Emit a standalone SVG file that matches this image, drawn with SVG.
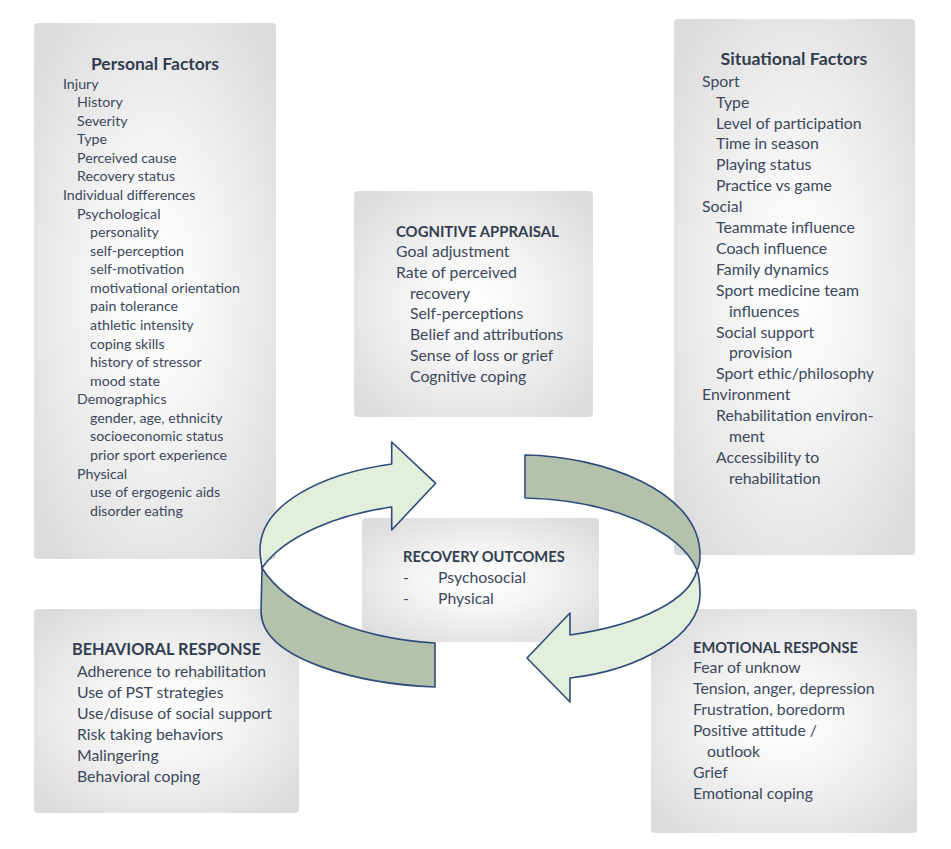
<svg xmlns="http://www.w3.org/2000/svg" width="951" height="849" viewBox="0 0 951 849">
<defs>
<radialGradient id="boxg" cx="50%" cy="50%" r="65%">
<stop offset="0" stop-color="#ffffff"/>
<stop offset="0.35" stop-color="#f6f6f6"/>
<stop offset="1" stop-color="#dcdbdc"/>
</radialGradient>
<style>
.box{fill:url(#boxg);stroke:none}
.t{font-family:Lato,"Open Sans",sans-serif;fill:#3b485b}
.h{font-family:Lato,"Open Sans",sans-serif;font-weight:bold;fill:#323e4f}
.s13{font-size:14.2px}
.s15{font-size:15.8px}
.light{fill:#e2efda;stroke:#2f4b7c;stroke-width:1.6;stroke-linejoin:round}
.dark{fill:#b4c1ab;stroke:#2f4b7c;stroke-width:1.6;stroke-linejoin:round}
</style>
</defs>
<rect width="951" height="849" fill="#ffffff"/>

<g id="personal-factors">
<rect class="box" x="34" y="23" width="242" height="536" rx="4"/>
<text class="h" x="155" y="70" font-size="17.5" text-anchor="middle">Personal Factors</text>
<g class="t s13">
<text x="63" y="88.5">Injury</text>
<text x="77" y="107.1">History</text>
<text x="77" y="125.6">Severity</text>
<text x="77" y="144.2">Type</text>
<text x="77" y="162.8">Perceived cause</text>
<text x="77" y="181.4">Recovery status</text>
<text x="63" y="199.9">Individual differences</text>
<text x="77" y="218.5">Psychological</text>
<text x="90" y="237.1">personality</text>
<text x="90" y="255.6">self-perception</text>
<text x="90" y="274.2">self-motivation</text>
<text x="90" y="292.8">motivational orientation</text>
<text x="90" y="311.3">pain tolerance</text>
<text x="90" y="329.9">athletic intensity</text>
<text x="90" y="348.5">coping skills</text>
<text x="90" y="367.1">history of stressor</text>
<text x="90" y="385.6">mood state</text>
<text x="77" y="404.2">Demographics</text>
<text x="90" y="422.8">gender, age, ethnicity</text>
<text x="90" y="441.3">socioeconomic status</text>
<text x="90" y="459.9">prior sport experience</text>
<text x="77" y="478.5">Physical</text>
<text x="90" y="497.0">use of ergogenic aids</text>
<text x="90" y="515.6">disorder eating</text>
</g>
</g>

<g id="situational-factors">
<rect class="box" x="674" y="19" width="241" height="536" rx="4"/>
<text class="h" x="794" y="65" font-size="17.8" text-anchor="middle">Situational Factors</text>
<g class="t s15">
<text x="702" y="86.7">Sport</text>
<text x="716" y="107.6">Type</text>
<text x="716" y="128.5">Level of participation</text>
<text x="716" y="149.4">Time in season</text>
<text x="716" y="170.3">Playing status</text>
<text x="716" y="191.2">Practice vs game</text>
<text x="702" y="212.1">Social</text>
<text x="716" y="233.0">Teammate influence</text>
<text x="716" y="253.9">Coach influence</text>
<text x="716" y="274.8">Family dynamics</text>
<text x="716" y="295.7">Sport medicine team</text>
<text x="729" y="316.6">influences</text>
<text x="716" y="337.5">Social support</text>
<text x="729" y="358.4">provision</text>
<text x="716" y="379.3">Sport ethic/philosophy</text>
<text x="702" y="400.2">Environment</text>
<text x="716" y="421.1">Rehabilitation environ-</text>
<text x="729" y="442.0">ment</text>
<text x="716" y="462.9">Accessibility to</text>
<text x="729" y="483.8">rehabilitation</text>
</g>
</g>

<g id="cognitive-appraisal">
<rect class="box" x="354" y="191" width="239" height="226" rx="4"/>
<text class="h" x="396" y="236.7" font-size="14.9">COGNITIVE APPRAISAL</text>
<g class="t s15">
<text x="396" y="256.7">Goal adjustment</text>
<text x="396" y="277.6">Rate of perceived</text>
<text x="410" y="298.5">recovery</text>
<text x="410" y="319.4">Self-perceptions</text>
<text x="410" y="340.3">Belief and attributions</text>
<text x="410" y="361.2">Sense of loss or grief</text>
<text x="410" y="382.1">Cognitive coping</text>
</g>
</g>

<g id="recovery-outcomes">
<rect class="box" x="362" y="518" width="237" height="124" rx="4"/>
<text class="h" x="403" y="561.7" font-size="14.7">RECOVERY OUTCOMES</text>
<g class="t s15">
<text x="403" y="583.3">-</text>
<text x="438" y="583.3">Psychosocial</text>
<text x="403" y="604.2">-</text>
<text x="438" y="604.2">Physical</text>
</g>
</g>

<g id="behavioral-response">
<rect class="box" x="34" y="609" width="265" height="204" rx="4"/>
<text class="h" x="72" y="655" font-size="16.3">BEHAVIORAL RESPONSE</text>
<g class="t s15">
<text x="77" y="677.3">Adherence to rehabilitation</text>
<text x="77" y="698.2">Use of PST strategies</text>
<text x="77" y="719.1">Use/disuse of social support</text>
<text x="77" y="740.0">Risk taking behaviors</text>
<text x="77" y="760.9">Malingering</text>
<text x="77" y="781.8">Behavioral coping</text>
</g>
</g>

<g id="emotional-response">
<rect class="box" x="651" y="609" width="266" height="224" rx="4"/>
<text class="h" x="693" y="653.3" font-size="14.6">EMOTIONAL RESPONSE</text>
<g class="t s15">
<text x="693" y="673.3">Fear of unknow</text>
<text x="693" y="694.3">Tension, anger, depression</text>
<text x="693" y="715.3">Frustration, boredorm</text>
<text x="693" y="736.3">Positive attitude /</text>
<text x="707" y="757.3">outlook</text>
<text x="693" y="778.3">Grief</text>
<text x="693" y="799.3">Emotional coping</text>
</g>
</g>

<g id="connectors">
<path id="arrow-left-back" class="light" d="M391.7,464 L391.7,442 L435.7,483.3 L391.7,530 L391.7,507 C340,514 285,535 262,568 C261,562 260,556 260,550 C260,505 320,474 391.7,464 Z"/>
<path id="arrow-left-front" class="dark" d="M262,568 C285,605 350,638 435,643 L435,687 C360,684 262,660 261,612 Z"/>
<path id="arrow-right-back" class="dark" d="M525,455 C600,456 700,490 700,555 C700,562 699,567 697,570 C680,530 610,500 525,498 Z"/>
<path id="arrow-right-front" class="light" d="M697,570 C700,578 700,586 700,595 C700,635 640,670 570,678 L570,702 L527,658 L570,613 L570,635 C640,625 690,600 697,570 Z"/>
</g>
</svg>
